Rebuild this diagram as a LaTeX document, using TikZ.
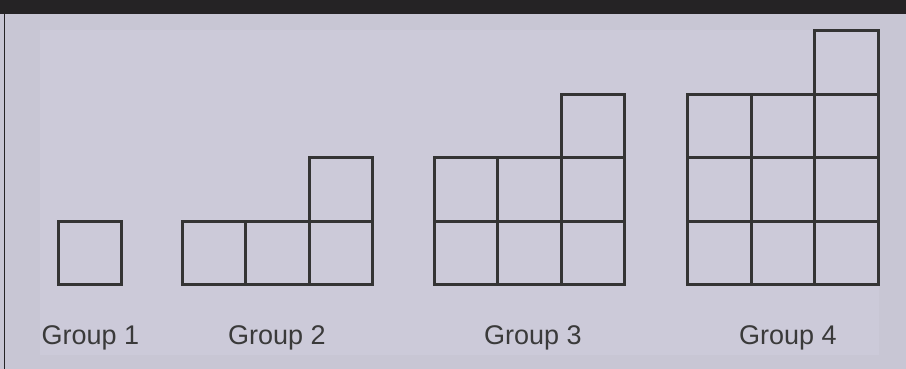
\documentclass[tikz,border=0pt]{standalone}
\usepackage{fontspec}
\setmainfont{Liberation Sans}
\definecolor{outerbg}{RGB}{200,198,212}
\definecolor{innerbg}{RGB}{204,202,217}
\definecolor{topbar}{RGB}{37,35,37}
\definecolor{lineclr}{RGB}{52,52,52}
\definecolor{txtclr}{RGB}{58,58,58}
\tikzset{
  cell/.style={draw=lineclr, line width=3pt, minimum size=63.5pt, inner sep=0pt, anchor=south west},
  grouplabel/.style={text=txtclr, font=\fontsize{27}{31}\selectfont, anchor=base, inner sep=0pt}
}
\begin{document}
\begin{tikzpicture}[x=1pt,y=1pt]
\useasboundingbox (0,0) rectangle (906,369);
\fill[outerbg] (0,0) rectangle (906,369);
\fill[innerbg] (40,14) rectangle (879,339);
\fill[topbar] (0,355) rectangle (906,369);
\draw[topbar, line width=1.5pt] (4.5,0) -- (4.5,355);
% Group 1
\node[cell] (g1a) at (56.5,82.5) {};
% Group 2
\node[cell] (g2a) at (180.5,82.5) {};
\node[cell] (g2b) at (244,82.5) {};
\node[cell] (g2c) at (307.5,82.5) {};
\node[cell] (g2d) at (307.5,146) {};
% Group 3
\node[cell] (g3a) at (432.5,82.5) {};
\node[cell] (g3b) at (496,82.5) {};
\node[cell] (g3c) at (559.5,82.5) {};
\node[cell] (g3d) at (432.5,146) {};
\node[cell] (g3e) at (496,146) {};
\node[cell] (g3f) at (559.5,146) {};
\node[cell] (g3g) at (559.5,209.5) {};
% Group 4
\node[cell] (g4a) at (686,82.5) {};
\node[cell] (g4b) at (749.5,82.5) {};
\node[cell] (g4c) at (813,82.5) {};
\node[cell] (g4d) at (686,146) {};
\node[cell] (g4e) at (749.5,146) {};
\node[cell] (g4f) at (813,146) {};
\node[cell] (g4g) at (686,209.5) {};
\node[cell] (g4h) at (749.5,209.5) {};
\node[cell] (g4i) at (813,209.5) {};
\node[cell] (g4j) at (813,273) {};
% Labels
\node[grouplabel] (l1) at (90.5,24) {Group 1};
\node[grouplabel] (l2) at (277,24) {Group 2};
\node[grouplabel] (l3) at (533,24) {Group 3};
\node[grouplabel] (l4) at (788,24) {Group 4};
\end{tikzpicture}
\end{document}
